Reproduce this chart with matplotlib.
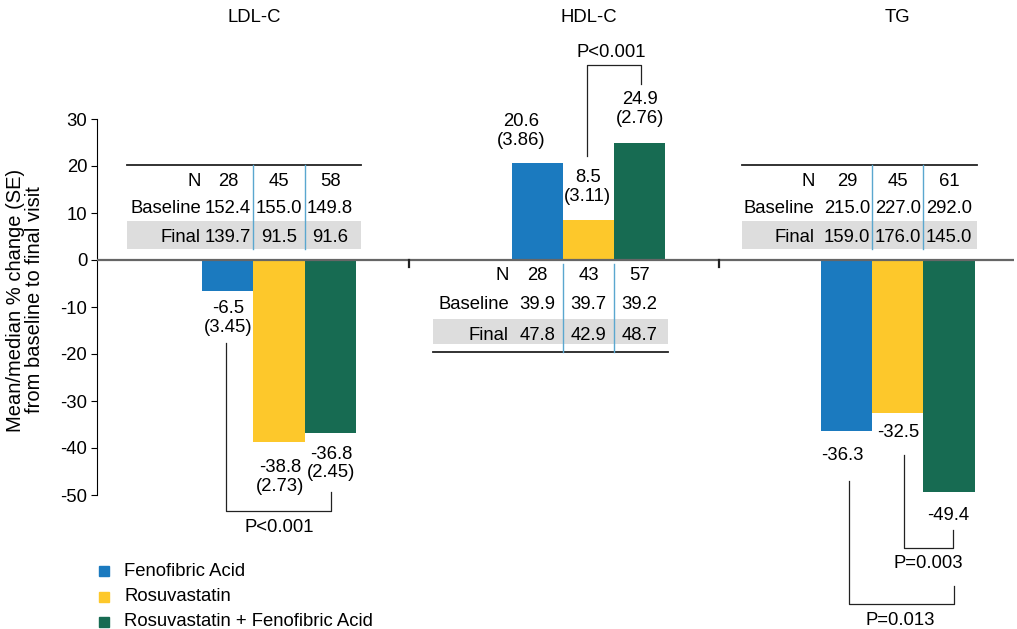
import numpy as np
import matplotlib.pyplot as plt
from matplotlib.patches import Rectangle

plt.rcParams['font.family'] = ['Liberation Sans', 'DejaVu Sans']
plt.rcParams['axes.unicode_minus'] = False

# data
groups = ['LDL-C', 'HDL-C', 'TG']
series = ['Fenofibric Acid', 'Rosuvastatin', 'Rosuvastatin + Fenofibric Acid']
fenofibric = [-6.5, 20.6, -36.3]
rosuvastatin = [-38.8, 8.5, -32.5]
combination = [-36.8, 24.9, -49.4]
fenofibric_se = [3.45, 3.86, None]
rosuvastatin_se = [2.73, 3.11, None]
combination_se = [2.45, 2.76, None]
n_values = [[28, 45, 58], [28, 43, 57], [29, 45, 61]]
baseline = [['152.4', '155.0', '149.8'], ['39.9', '39.7', '39.2'], ['215.0', '227.0', '292.0']]
final = [['139.7', '91.5', '91.6'], ['47.8', '42.9', '48.7'], ['159.0', '176.0', '145.0']]
colors = ['#1b7abf', '#fdc82b', '#176b52']

FS = 13.3
W = 0.165

fig = plt.figure(figsize=(10.17, 6.29), dpi=100)
ax = fig.add_axes([97 / 1017, 134 / 629, (1014 - 97) / 1017, 376 / 629])

x = np.arange(len(groups))
all_vals = [fenofibric, rosuvastatin, combination]
for i, vals in enumerate(all_vals):
    ax.bar(x + (i - 1) * W, vals, W, color=colors[i], zorder=3)

ax.set_xlim(-0.588, 2.375)
ax.set_ylim(-50, 30)
ax.set_yticks(np.arange(-50, 31, 10))
ax.tick_params(axis='y', labelsize=FS, length=4, width=0.8, pad=3)
ax.set_xticks([])
for s in ['top', 'right', 'bottom']:
    ax.spines[s].set_visible(False)
ax.spines['left'].set_linewidth(0.8)
ax.axhline(0, color='#666666', lw=1.6, zorder=4)
for sx in [0.42, 1.422]:
    ax.plot([sx, sx], [0, -1.5], color='#222222', lw=1.6, clip_on=False, zorder=5)

fig.text(25 / 1017, 1 - 300 / 629, 'Mean/median % change (SE)\nfrom baseline to final visit',
         rotation=90, ha='center', va='center', multialignment='center',
         fontsize=14.5, linespacing=0.95)

# tables
def table(g, rows_y, band, line_y, vline, labels_right=-0.26, left=-0.5, right=0.26):
    ax.add_patch(Rectangle((g + left, band[0]), right - left, band[1] - band[0],
                           color='#dddddd', lw=0, clip_on=False, zorder=1))
    ax.plot([g + left, g + right], [line_y, line_y], color='#222222', lw=1.3,
            clip_on=False, zorder=2)
    for vx in [g - W / 2, g + W / 2]:
        ax.plot([vx, vx], vline, color='#5aa7cf', lw=1.0, clip_on=False, zorder=2)
    names = ['N', 'Baseline', 'Final']
    rows = [[str(v) for v in n_values[g]], baseline[g], final[g]]
    for name, ry, row in zip(names, rows_y, rows):
        ax.text(g + labels_right, ry, name, ha='right', va='center', fontsize=FS, clip_on=False)
        for i, v in enumerate(row):
            ax.text(g + (i - 1) * W, ry, v, ha='center', va='center', fontsize=FS, clip_on=False)

table(0, [16.8, 10.9, 4.7], (2.3, 8.3), 20.2, [20.2, 2.3], labels_right=-0.252, left=-0.491, right=0.265)
table(1, [-3.4, -9.4, -16.0], (-17.9, -12.55), -19.6, [-0.85, -19.6], labels_right=-0.257, left=-0.502, right=0.257)
table(2, [16.8, 10.9, 4.7], (2.3, 8.3), 20.2, [20.2, 2.3], labels_right=-0.27, left=-0.504, right=0.255)

# value labels
label_pos = [
    (-0.165, -12.4, '-6.5\n(3.45)'),
    (0.003, -46.1, '-38.8\n(2.73)'),
    (0.168, -43.3, '-36.8\n(2.45)'),
    (0.782, 27.4, '20.6\n(3.86)'),
    (0.998, 15.5, '8.5\n(3.11)'),
    (1.166, 32.1, '24.9\n(2.76)'),
    (1.819, -41.5, '-36.3'),
    (2.0, -36.8, '-32.5'),
    (2.162, -54.3, '-49.4'),
]
for lx, ly, t in label_pos:
    ax.text(lx, ly, t, ha='center', va='center', fontsize=FS, linespacing=1.13,
            clip_on=False, zorder=6)

# p-value brackets
def bracket(x1, y1, x2, y2, yb, text, ty, tx):
    ax.plot([x1, x1, x2, x2], [y1, yb, yb, y2], color='#222222', lw=0.9, clip_on=False)
    ax.text(tx, ty, text, ha='center', va='center', fontsize=FS, clip_on=False)

bracket(-0.171, -17.7, 0.168, -49.4, -53.4, 'P<0.001', -56.9, 0.0)
bracket(0.995, 22.1, 1.170, 37.4, 41.5, 'P<0.001', 44.1, 1.073)
bracket(2.019, -41.5, 2.178, -57.4, -61.3, 'P=0.003', -64.5, 2.097)
bracket(1.842, -47.0, 2.181, -69.4, -73.2, 'P=0.013', -76.6, 2.006)

# titles
for tx, name in zip([254, 589, 897], groups):
    fig.text(tx / 1017, 1 - 18 / 629, name, ha='center', va='center', fontsize=FS)

# legend
for i, (name, c) in enumerate(zip(series, colors)):
    yy = 571 + i * 25.5
    fig.add_artist(Rectangle((99 / 1017, 1 - (yy + 5) / 629), 10 / 1017, 10 / 629,
                             color=c, transform=fig.transFigure))
    fig.text(124 / 1017, 1 - yy / 629, name, ha='left', va='center', fontsize=FS)

fig.savefig('out.png', dpi=100)
